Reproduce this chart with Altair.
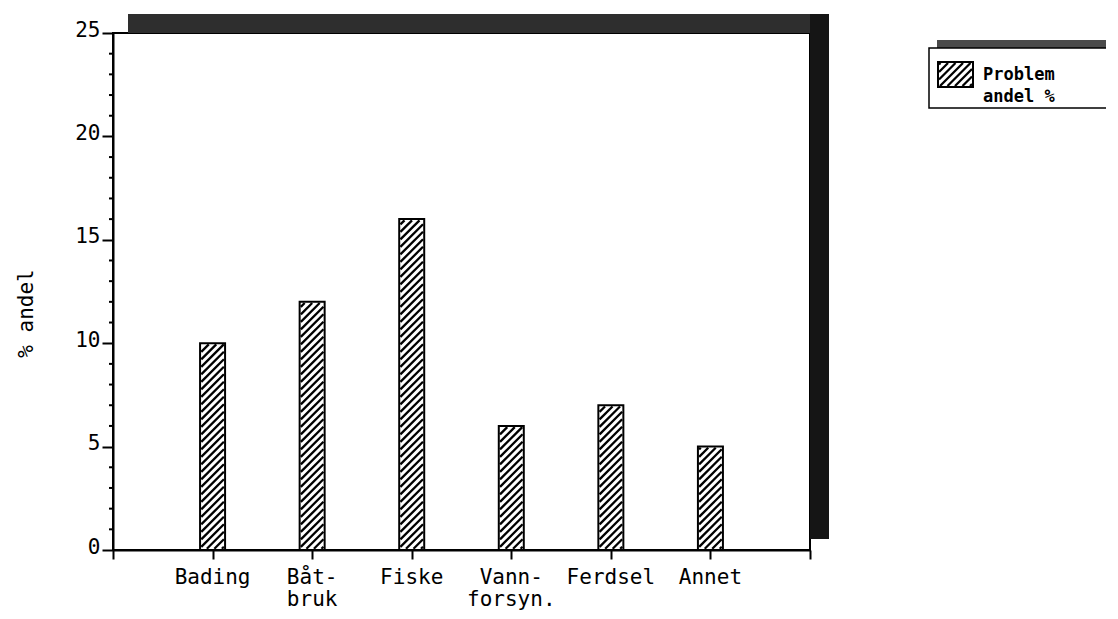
import altair as alt
import pandas as pd

# ---- data ----
categories = ["Bading", "Båt-\nbruk", "Fiske", "Vann-\nforsyn.", "Ferdsel", "Annet"]
values = [10, 12, 16, 6, 7, 5]
y_major = [0, 5, 10, 15, 20, 25]
y_minor = [v for v in range(0, 26) if v % 5 != 0]
y_title = "% andel"
legend_lines = ["Problem", "andel %"]

# ---- layout (pixels) ----
W, H = 697, 517
XMAX, YMAX = 7, 25
PXX = W / XMAX
PXY = H / YMAX
FONT = "DejaVu Sans Mono"
BAR_W = 25
SPACING = 7.5


def to_x(px):
    return px / PXX


def to_y(py):
    return (H - py) / PXY


def hatch(x0, ybot, w, h, inset=1.2):
    """45deg hatch segments inside a pixel rectangle (x0 left, ybot bottom)."""
    x0 += inset
    ybot -= inset
    w -= 2 * inset
    h -= 2 * inset
    segs = []
    c = -w + 2.0
    while c < h:
        u1 = max(0.0, -c)
        u2 = min(w, h - c)
        if u2 > u1:
            segs.append({"x1": to_x(x0 + u1), "y1": to_y(ybot - (u1 + c)),
                         "x2": to_x(x0 + u2), "y2": to_y(ybot - (u2 + c))})
        c += SPACING
    return segs


positions = list(range(1, len(categories) + 1))
bars = pd.DataFrame({"pos": positions, "value": values, "cat": categories})

segs = []
for p, v in zip(positions, values):
    segs += hatch(p * PXX - BAR_W / 2, H, BAR_W, v * PXY)
swatch = dict(x=825, y=29, w=35, h=25)
segs += hatch(swatch["x"], swatch["y"] + swatch["h"], swatch["w"], swatch["h"], inset=1.0)
hatch_df = pd.DataFrame(segs)
minor_df = pd.DataFrame({"v": y_minor})

xs = alt.Scale(domain=[0, XMAX], nice=False, zero=False, padding=0)
ys = alt.Scale(domain=[0, YMAX], nice=False, zero=False, padding=0)

x_axis = alt.Axis(values=list(range(0, XMAX + 1)), labels=False,
                  title=None, grid=False, tickSize=9, tickWidth=2, tickColor="black",
                  domainColor="black", domainWidth=2)

y_axis = alt.Axis(values=y_major, tickSize=11,
                  tickWidth=2, tickColor="black", domainColor="black", domainWidth=2,
                  grid=False, labelFont=FONT, labelFontSize=21, labelColor="black",
                  labelPadding=2, labelOffset=-3,
                  title=y_title, titleFont=FONT, titleFontSize=21, titleFontWeight="normal",
                  titleColor="black", titleX=-87, titleY=280, titleAngle=270,
                  titleBaseline="middle", titleAlign="center")

one = pd.DataFrame({"k": [0]})

bar_fill = alt.Chart(bars).mark_bar(size=BAR_W, fill="white", strokeWidth=0).encode(
    x=alt.X("pos:Q", scale=xs, axis=x_axis),
    y=alt.Y("value:Q", scale=ys, axis=y_axis),
)

x_labels = alt.Chart(bars).mark_text(baseline="top", align="center", font=FONT, fontSize=21,
                                     color="black", lineBreak="\n", lineHeight=22).encode(
    x=alt.X("pos:Q", scale=xs, axis=x_axis),
    y=alt.value(H + 17),
    text="cat:N",
)

minor_ticks = alt.Chart(minor_df).mark_rule(color="black", strokeWidth=2).encode(
    x=alt.value(-4), x2=alt.value(0),
    y=alt.Y("v:Q", scale=ys, axis=y_axis),
)

hatch_layer = alt.Chart(hatch_df).mark_rule(color="black", strokeWidth=2.3, strokeCap="butt").encode(
    x=alt.X("x1:Q", scale=xs, axis=x_axis),
    x2="x2:Q",
    y=alt.Y("y1:Q", scale=ys, axis=y_axis),
    y2="y2:Q",
)

bar_outline = alt.Chart(bars).mark_bar(size=BAR_W, fillOpacity=0, stroke="black", strokeWidth=2).encode(
    x=alt.X("pos:Q", scale=xs, axis=x_axis),
    y=alt.Y("value:Q", scale=ys, axis=y_axis),
)

frame_top = alt.Chart(one).mark_rect(color="#2e2e2e").encode(
    x=alt.value(15), x2=alt.value(716), y=alt.value(-19), y2=alt.value(0))
frame_right = alt.Chart(one).mark_rect(color="#151515").encode(
    x=alt.value(697), x2=alt.value(716), y=alt.value(-19), y2=alt.value(506))

leg_shadow = alt.Chart(one).mark_rect(color="#4a4a4a").encode(
    x=alt.value(824), x2=alt.value(1030), y=alt.value(7), y2=alt.value(67))
leg_box = alt.Chart(one).mark_rect(fill="white", stroke="black", strokeWidth=1.5).encode(
    x=alt.value(816), x2=alt.value(1030), y=alt.value(15), y2=alt.value(75))
leg_swatch = alt.Chart(one).mark_rect(fill="white", stroke="black", strokeWidth=2).encode(
    x=alt.value(swatch["x"]), x2=alt.value(swatch["x"] + swatch["w"]),
    y=alt.value(swatch["y"]), y2=alt.value(swatch["y"] + swatch["h"]))
leg_text = alt.Chart(one).mark_text(align="left", baseline="alphabetic", font=FONT, fontSize=17,
                                    fontWeight="bold", color="black", lineBreak="\n",
                                    lineHeight=22).encode(
    x=alt.value(870), y=alt.value(47), text=alt.value("\n".join(legend_lines)))

chart = alt.layer(
    bar_fill, x_labels, minor_ticks, leg_shadow, leg_box, leg_swatch, hatch_layer, bar_outline,
    frame_top, frame_right, leg_text,
).properties(
    width=W, height=H,
    autosize=alt.AutoSizeParams(type="none"),
    padding={"left": 105, "top": 25, "right": 296, "bottom": 60},
    background="white",
).configure_view(stroke="black", strokeWidth=2)

chart.save("out.html", embed_options={"renderer": "svg", "actions": False})
